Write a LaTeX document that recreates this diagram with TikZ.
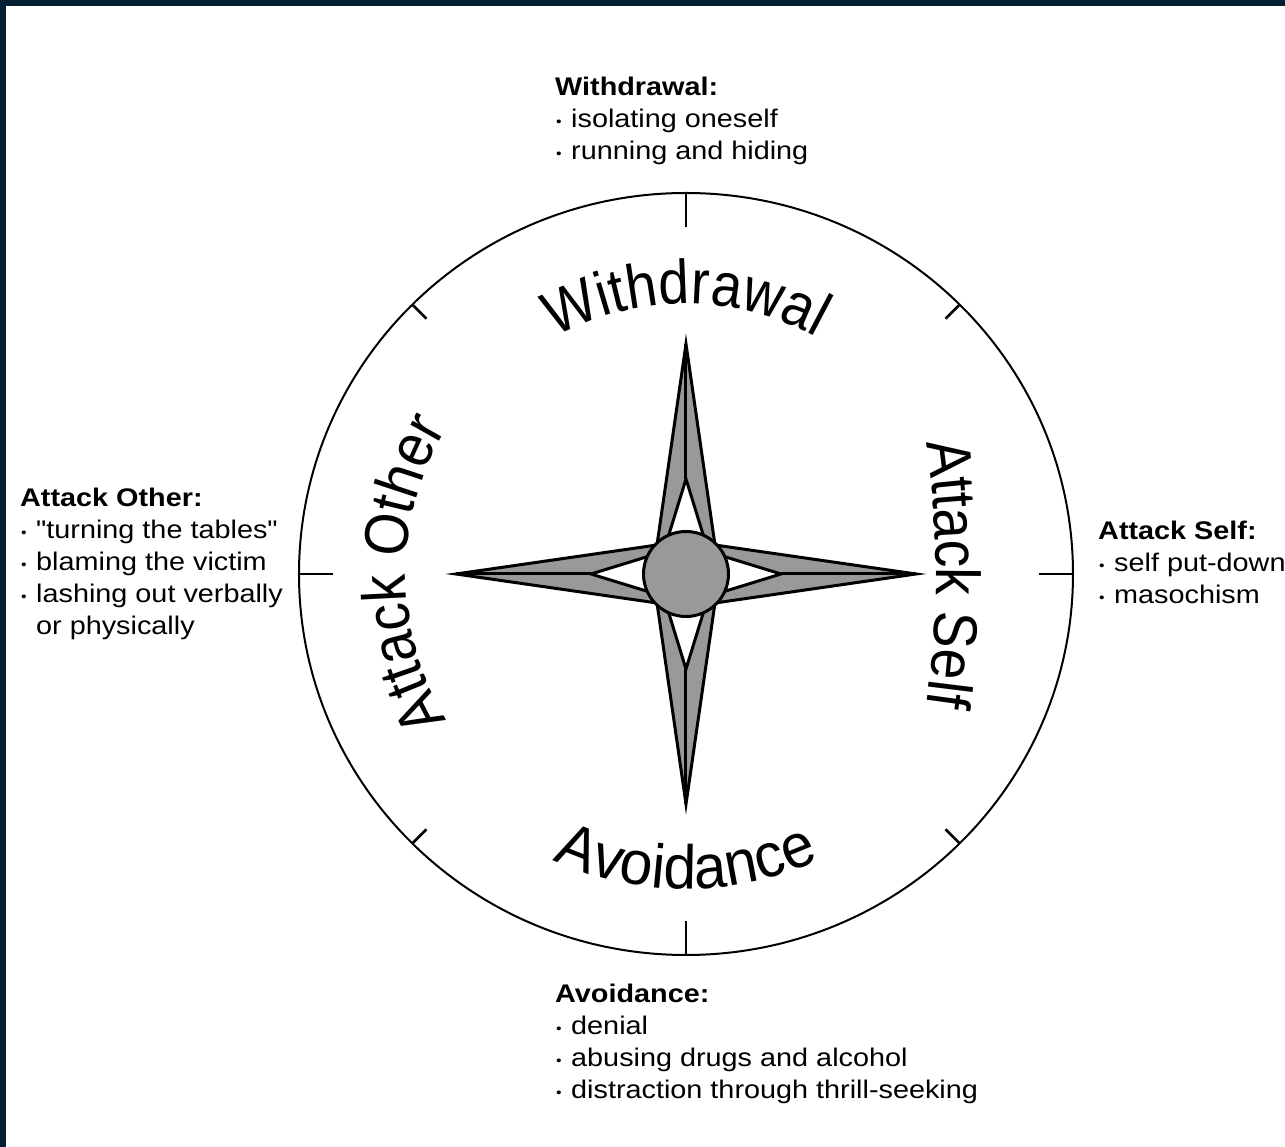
\documentclass[tikz,border=0pt]{standalone}
\usepackage{fontspec}
\setmainfont{Liberation Sans}[Ligatures=TeXOff]
\newfontfamily\ringA{Liberation Sans}[FakeStretch=0.89]
\newfontfamily\ringB{Liberation Sans}[FakeStretch=0.95]
\newfontfamily\blk{Liberation Sans}[FakeStretch=1.13, Ligatures=TeXOff]
\usetikzlibrary{decorations.text}
\definecolor{navy}{RGB}{4,30,50}
\definecolor{stargray}{RGB}{153,153,153}
\newcommand\ringfnt{\ringA\fontsize{62pt}{62pt}\selectfont}
\newcommand\ringfntb{\ringB\fontsize{62pt}{62pt}\selectfont}
\newcommand\blockfnt{\blk\fontsize{25.5pt}{32pt}\selectfont}
\newcommand\bul{\makebox[16pt][l]{\hspace{1pt}\raisebox{1pt}{\fontsize{14pt}{14pt}\selectfont\textbullet}}}
\begin{document}
\begin{tikzpicture}[x=1pt,y=1pt,
  ring/.style={line width=2pt},
  tickmark/.style={line width=2.5pt},
  starline/.style={line width=3pt, line join=miter},
  block/.style={anchor=base west, inner sep=0pt, align=left, font=\blockfnt},
  ringtext/.style={decorate, decoration={text along path, text align=center, text={|\ringfnt|#1}}},
  ringtextb/.style={decorate, decoration={text along path, text align=center, text={|\ringfntb|#1}}}
]
\useasboundingbox (-686,-573) rectangle (599,574);
\fill[navy] (-686,-573) rectangle (599,574);
\fill[white] (-680,-573) rectangle (599,568);

% ring and ticks
\draw[ring] (0,0) ellipse [x radius=387, y radius=381];
\draw[tickmark] (0,381) -- (0,347);
\draw[tickmark] (0,-381) -- (0,-347);
\draw[tickmark] (-387,0) -- (-353,0);
\draw[tickmark] (387,0) -- (353,0);
\foreach \a in {45,135,225,315}
  \draw[tickmark] ({387*cos(\a)},{381*sin(\a)}) -- ({367*cos(\a)},{361*sin(\a)});

% star
\filldraw[starline, fill=stargray] (0,230)--(29,29)--(230,0)--(29,-29)--(0,-230)--(-29,-29)--(-230,0)--(-29,29)--cycle;
\foreach \r in {0,90,180,270} {
  \filldraw[starline, fill=white, rotate=\r] (0,95)--(20,30)--(-20,30)--cycle;
  \draw[starline, rotate=\r] (0,230)--(0,95);
}
\filldraw[starline, fill=stargray] (0,0) circle (42.5);

% ring labels
\path[ringtext=Withdrawal] (150:270) arc[start angle=150, end angle=30, radius=270];
\path[ringtextb=Avoidance] (210:315) arc[start angle=210, end angle=330, radius=315];
\path[ringtext=Attack Other] (240:280) arc[start angle=240, end angle=120, radius=280];
\path[ringtext=Attack Self] ([shift={(-650,0)}]12:900) arc[start angle=12, end angle=-12, radius=900];

% outer blocks (anchored at the baseline of the last line)
\node[block] (wd) at (-131,414) {\textbf{Withdrawal:}\\\bul isolating oneself\\\bul running and hiding};
\node[block] (av) at (-131,-524) {\textbf{Avoidance:}\\\bul denial\\\bul abusing drugs and alcohol\\\bul distraction through thrill-seeking};
\node[block] (ao) at (-666,-61) {\textbf{Attack Other:}\\\bul "turning the tables"\\\bul blaming the victim\\\bul lashing out verbally\\\makebox[16pt]{}or physically};
\node[block] (as) at (412,-30) {\textbf{Attack Self:}\\\bul self put-down\\\bul masochism};
\end{tikzpicture}
\end{document}
